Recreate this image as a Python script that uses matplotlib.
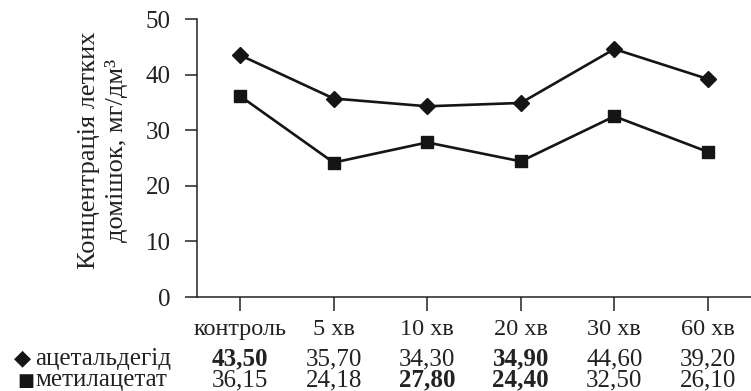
import matplotlib.pyplot as plt
from matplotlib.transforms import blended_transform_factory

# Дані
категорії = ['контроль', '5 хв', '10 хв', '20 хв', '30 хв', '60 хв']
ацетальдегід = [43.50, 35.70, 34.30, 34.90, 44.60, 39.20]
метилацетат = [36.15, 24.18, 27.80, 24.40, 32.50, 26.10]
# Які значення в таблиці виділено жирним
жирні_ацет = [True, False, False, True, False, False]
жирні_метил = [False, False, True, True, False, False]

plt.rcParams['font.family'] = ['Liberation Serif', 'DejaVu Serif']
plt.rcParams['font.size'] = 18

fig = plt.figure(figsize=(7.51, 3.91), dpi=100)
ax = fig.add_axes([0.2623, 0.2404, 0.7377, 0.711])

x = list(range(len(категорії)))
ax.plot(x, ацетальдегід, color='#151515', linewidth=1.9, marker='D', markersize=8.5, clip_on=False)
ax.plot(x, метилацетат, color='#151515', linewidth=1.9, marker='s', markersize=9, clip_on=False)

ax.set_ylim(0, 50)
ax.set_yticks(range(0, 51, 10))
ax.set_xlim(-0.46, 5.46)
ax.set_xticks(x)
ax.set_xticklabels([])

for side in ['top', 'right']:
    ax.spines[side].set_visible(False)
for side in ['left', 'bottom']:
    ax.spines[side].set_linewidth(1.1)
    ax.spines[side].set_color('#222222')
ax.tick_params(axis='y', direction='out', length=9, width=1.1, pad=10, labelsize=18, colors='#222222')
ax.tick_params(axis='x', direction='out', length=10, width=1.1, colors='#222222')

fig.text(103 / 751, 1 - 150 / 391, 'Концентрація летких\nдомішок, мг/дм³',
         rotation=90, ha='center', va='center', multialignment='center',
         fontsize=19, linespacing=1.3, color='#222222')

# Таблиця значень під віссю
tr = blended_transform_factory(ax.transData, fig.transFigure)
y_кат = 1 - 335 / 391
y_ацет = 1 - 365 / 391
y_метил = 1 - 386 / 391

for i, назва in enumerate(категорії):
    ax.text(i, y_кат, назва, transform=tr, ha='center', va='baseline', fontsize=17.5, color='#222222')
    ax.text(i, y_ацет, f'{ацетальдегід[i]:.2f}'.replace('.', ','), transform=tr,
            ha='center', va='baseline', fontsize=18, color='#222222',
            fontweight='bold' if жирні_ацет[i] else 'normal')
    ax.text(i, y_метил, f'{метилацетат[i]:.2f}'.replace('.', ','), transform=tr,
            ha='center', va='baseline', fontsize=18, color='#222222',
            fontweight='bold' if жирні_метил[i] else 'normal')

fig.text(14 / 751, y_ацет + 0.003, '◆', family='DejaVu Sans', fontsize=16, ha='left', va='baseline', color='#151515')
fig.text(17 / 751, y_метил, '■', family='DejaVu Sans', fontsize=13, ha='left', va='baseline', color='#151515')
fig.text(35 / 751, y_ацет, 'ацетальдегід', fontsize=18, ha='left', va='baseline', color='#222222')
fig.text(35 / 751, y_метил, 'метилацетат', fontsize=18, ha='left', va='baseline', color='#222222')

fig.savefig('out.png', dpi=100)
